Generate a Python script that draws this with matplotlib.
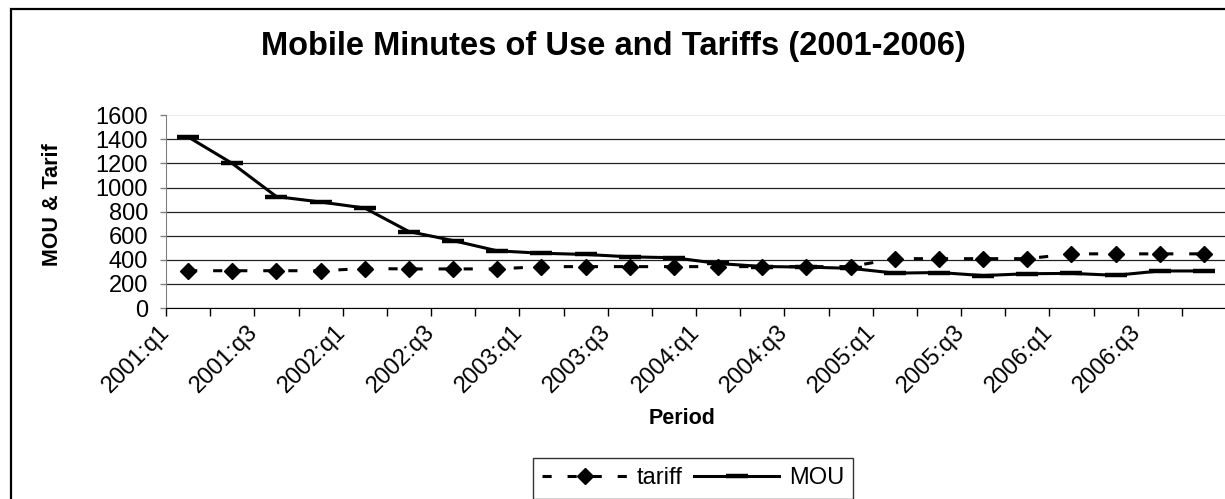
import matplotlib
matplotlib.use("Agg")
import matplotlib.pyplot as plt
from matplotlib.patches import Rectangle
import numpy as np

plt.rcParams['font.family'] = ['Liberation Sans', 'DejaVu Sans']

# quarters 2001:q1 .. 2006:q4
quarters = [f"{y}:q{q}" for y in range(2001, 2007) for q in range(1, 5)]

# minutes of use per quarter
mou = [1420, 1200, 925, 880, 830, 635, 560, 475,
       455, 445, 425, 418, 370, 345, 340, 330,
       290, 295, 270, 285, 288, 272, 308, 308]

# tariff per quarter
tariff = [310, 310, 310, 310, 328, 325, 325, 325,
          344, 344, 344, 344, 344, 344, 344, 344,
          410, 410, 410, 410, 450, 450, 450, 450]

yticks = [0, 200, 400, 600, 800, 1000, 1200, 1400, 1600]

x = np.arange(len(quarters))

fig = plt.figure(figsize=(12.25, 4.99), dpi=100)
ax = fig.add_axes([166/1225, 1 - 308.1/499, 1060/1225, (308.1 - 115.2)/499])

t_line, = ax.plot(x, tariff, color='black', lw=2.2, dashes=(3, 5.2),
                  marker='D', markersize=8.5, label='tariff', zorder=3)
m_line, = ax.plot(x, mou, color='black', lw=2.2, marker='_',
                  markersize=16, markeredgewidth=3.2, label='MOU', zorder=4)

ax.set_xlim(-0.5, len(quarters) - 0.5)
ax.set_ylim(0, 1600)
ax.set_yticks(yticks)
ax.set_yticklabels([str(v) for v in yticks], fontsize=17)
ax.tick_params(axis='y', direction='out', length=4, width=1, color='#808080', pad=9)

# gridlines at every 200, the top one barely visible
ax.yaxis.grid(True, color='#222222', lw=0.9)
for gl, v in zip(ax.get_ygridlines(), yticks):
    if v == 1600:
        gl.set_color('#eeeeee')
ax.set_axisbelow(True)

# category boundaries as ticks, labels on every other one
ax.set_xticks(x[::2] - 0.5)
ax.set_xticklabels(quarters[::2], rotation=45, ha='right', va='center',
                   rotation_mode='anchor', fontsize=17)
ax.set_xticks(np.arange(len(quarters) + 1) - 0.5, minor=True)
ax.tick_params(axis='x', which='both', direction='out', length=6, width=1,
               color='black', pad=9)

for side in ['top', 'right']:
    ax.spines[side].set_visible(False)
ax.spines['left'].set_color('#808080')
ax.spines['bottom'].set_color('black')

fig.text(613/1225, 1 - 47/499, 'Mobile Minutes of Use and Tariffs (2001-2006)',
         ha='center', va='center', fontsize=23.5, fontweight='bold')
fig.text(52/1225, 1 - 205/499, 'MOU & Tarif', rotation=90,
         ha='center', va='center', fontsize=15.5, fontweight='bold')
fig.text(682/1225, 1 - 418/499, 'Period', ha='center', va='center',
         fontsize=15.5, fontweight='bold')

leg = fig.legend(handles=[t_line, m_line], loc='upper center',
                 bbox_to_anchor=(693/1225, 1 - 458/499), ncol=2,
                 fontsize=17, frameon=True, fancybox=False, borderaxespad=0,
                 handlelength=3.6, columnspacing=0.5, handletextpad=0.4,
                 borderpad=0.4)
leg.get_frame().set_edgecolor('black')
leg.get_frame().set_linewidth(1)

# chart frame
fig.patches.append(Rectangle((11/1225, -0.1), 1.2, 1.1 - 9/499,
                             transform=fig.transFigure, fill=False,
                             edgecolor='black', lw=1.6))

fig.savefig('out.png', dpi=100)
